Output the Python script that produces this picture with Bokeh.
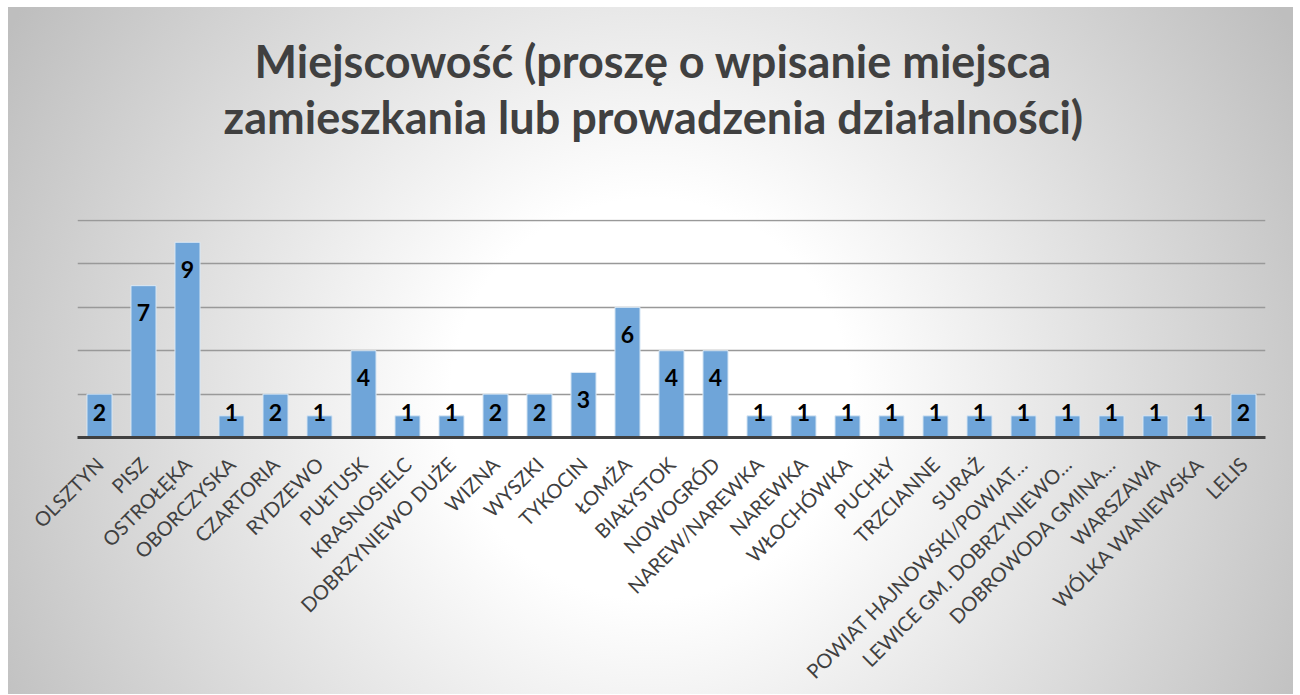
import math
from bokeh.plotting import figure
from bokeh.models import ColumnDataSource, FixedTicker, Title
from bokeh.embed import file_html
from bokeh.resources import INLINE
from bokeh.core.properties import value

categories = [
    "OLSZTYN", "PISZ", "OSTROŁĘKA", "OBORCZYSKA", "CZARTORIA", "RYDZEWO",
    "PUŁTUSK", "KRASNOSIELC", "DOBRZYNIEWO DUŻE", "WIZNA", "WYSZKI", "TYKOCIN",
    "ŁOMŻA", "BIAŁYSTOK", "NOWOGRÓD", "NAREW/NAREWKA", "NAREWKA", "WŁOCHÓWKA",
    "PUCHŁY", "TRZCIANNE", "SURAŻ", "POWIAT HAJNOWSKI/POWIAT…",
    "LEWICE GM. DOBRZYNIEWO…", "DOBROWODA GMINA…", "WARSZAWA",
    "WÓLKA WANIEWSKA", "LELIS",
]
counts = [2, 7, 9, 1, 2, 1, 4, 1, 1, 2, 2, 3, 6, 4, 4, 1, 1, 1, 1, 1, 1, 1, 1, 1, 1, 1, 2]
grid_ticks = [0, 2, 4, 6, 8, 10]

title_line1 = "Miejscowość (proszę o wpisanie miejsca"
title_line2 = "zamieszkania lub prowadzenia działalności)"

label_y = [max(c - 1.25, 1.16) for c in counts]
src = ColumnDataSource(dict(cat=categories, count=counts,
                            label=[str(c) for c in counts], ly=label_y))

p = figure(x_range=categories, y_range=(0, 10.05), width=1293, height=694,
           output_backend="svg", toolbar_location=None, title=None,
           min_border_left=77, min_border_right=28,
           min_border_top=219, min_border_bottom=257)

p.styles = {
    "background-color": "#ffffff",
    "background-image":
        "radial-gradient(circle 740px at 642px 392px, #ffffff 0px, #ffffff 200px, #bebebe 740px)",
    "background-position": "8px 7px",
    "background-size": "1285px 687px",
    "background-repeat": "no-repeat",
}
p.border_fill_alpha = 0
p.background_fill_alpha = 0
p.outline_line_color = None

p.vbar(x="cat", top="count", width=0.57, source=src,
       fill_color="#6fa5d9", line_color="#dce9f5", line_width=1)

p.text(x="cat", y="ly", text="label", source=src,
       text_align="center", text_baseline="middle",
       text_font=value("Lato"), text_font_style="bold",
       text_font_size="23px", text_color="#000000")

# spacer panel closest to the frame, then the two title lines
p.add_layout(Title(text=" ", text_font_size="10px", standoff=63), "above")
for txt, off in ((title_line2, 146), (title_line1, 177)):
    p.add_layout(Title(text=txt, align="left", text_font="Lato", text_font_style="bold",
                       text_font_size="45px", text_color="#404040",
                       standoff=0, offset=off), "above")

p.yaxis.visible = False
p.ygrid.ticker = FixedTicker(ticks=grid_ticks)
p.ygrid.grid_line_color = "#999999"
p.ygrid.grid_line_width = 1.3
p.xgrid.grid_line_color = None

p.xaxis.axis_line_color = "#404040"
p.xaxis.axis_line_width = 3
p.xaxis.major_tick_line_color = None
p.xaxis.minor_tick_line_color = None
p.xaxis.major_tick_out = 0
p.xaxis.major_label_standoff = 23
p.xaxis.major_label_orientation = math.pi / 4
p.xaxis.major_label_text_font = "Lato"
p.xaxis.major_label_text_font_size = "20px"
p.xaxis.major_label_text_color = "#404040"

open("out.html", "w").write(file_html(p, INLINE))
